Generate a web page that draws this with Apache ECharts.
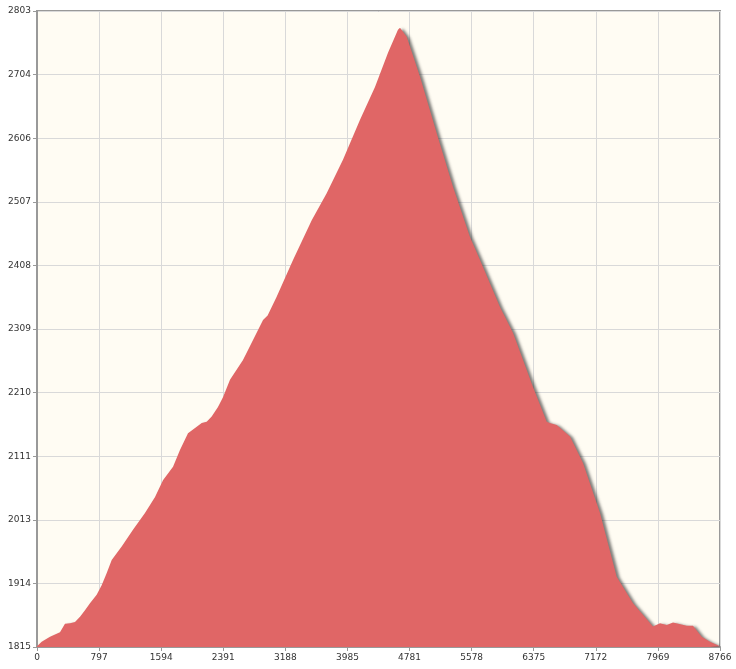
<!DOCTYPE html>
<html>
<head>
<meta charset="utf-8">
<script src="https://cdn.jsdelivr.net/npm/echarts@6/dist/echarts.min.js"></script>
<style>
  html, body { margin: 0; padding: 0; background: #fff; }
  #chart { width: 736px; height: 669px; }
</style>
</head>
<body>
<div id="chart"></div>
<script>
// distance (m) along the route
var distance = [0, 60, 167, 295, 359, 424, 488, 552, 616, 680, 766, 830, 895, 959,
  1087, 1232, 1386, 1515, 1617, 1746, 1835, 1938, 2050, 2114, 2178, 2242, 2323, 2387,
  2477, 2644, 2901, 2960, 3076, 3286, 3526, 3718, 3927, 4146, 4338, 4505, 4633, 4659,
  4745, 4916, 5130, 5339, 5557, 5686, 5942, 6109, 6366, 6542, 6580, 6670, 6841, 7008,
  7226, 7440, 7650, 7906, 7996, 8082, 8163, 8339, 8419, 8531, 8637, 8766];
// elevation (m)
var elevation = [1816, 1823, 1831, 1838, 1851, 1852, 1854, 1862, 1872, 1883, 1896, 1911, 1930, 1950,
  1971, 1997, 2023, 2048, 2074, 2095, 2121, 2147, 2157, 2163, 2165, 2173, 2188, 2203,
  2230, 2261, 2323, 2330, 2359, 2416, 2478, 2520, 2572, 2634, 2685, 2738, 2774, 2777,
  2763, 2701, 2613, 2530, 2452, 2416, 2343, 2303, 2219, 2165, 2163, 2160, 2142, 2101,
  2023, 1924, 1883, 1847, 1852, 1849, 1853, 1848, 1848, 1831, 1823, 1816];
var yTickLabels = ['1815', '1914', '2013', '2111', '2210', '2309', '2408', '2507', '2606', '2704', '2803'];

var points = distance.map(function (d, i) { return [d, elevation[i]]; });

var chart = echarts.init(document.getElementById('chart'));
chart.setOption({
  animation: false,
  grid: {
    left: 37, right: 16, top: 11, bottom: 22,
    show: true,
    backgroundColor: '#fffcf3',
    borderColor: '#999',
    borderWidth: 2
  },
  xAxis: {
    type: 'value',
    min: 0,
    max: 8766,
    interval: 8766 / 11,
    axisLine: { show: true, lineStyle: { color: '#999', width: 2 } },
    axisTick: { show: true, length: 4, lineStyle: { color: '#999' } },
    axisLabel: {
      color: '#333', fontSize: 9, fontFamily: 'DejaVu Sans', margin: 6,
      formatter: function (v) { return Math.round(v); }
    },
    splitLine: { show: true, lineStyle: { color: '#d9d9d9', width: 1 } }
  },
  yAxis: {
    type: 'value',
    min: 1815,
    max: 2803,
    interval: 98.8,
    axisLine: { show: true, lineStyle: { color: '#999', width: 2 } },
    axisTick: { show: true, length: 4, lineStyle: { color: '#999' } },
    axisLabel: {
      color: '#333', fontSize: 9, fontFamily: 'DejaVu Sans', margin: 6,
      formatter: function (v, i) { return yTickLabels[i]; }
    },
    splitLine: { show: true, lineStyle: { color: '#d9d9d9', width: 1 } }
  },
  series: [{
    type: 'line',
    data: points,
    symbol: 'none',
    smooth: false,
    lineStyle: { width: 0 },
    areaStyle: {
      color: '#e06666',
      opacity: 1,
      shadowColor: 'rgba(40,40,40,0.6)',
      shadowBlur: 3,
      shadowOffsetX: 3,
      shadowOffsetY: 1
    }
  }]
});
</script>
</body>
</html>
